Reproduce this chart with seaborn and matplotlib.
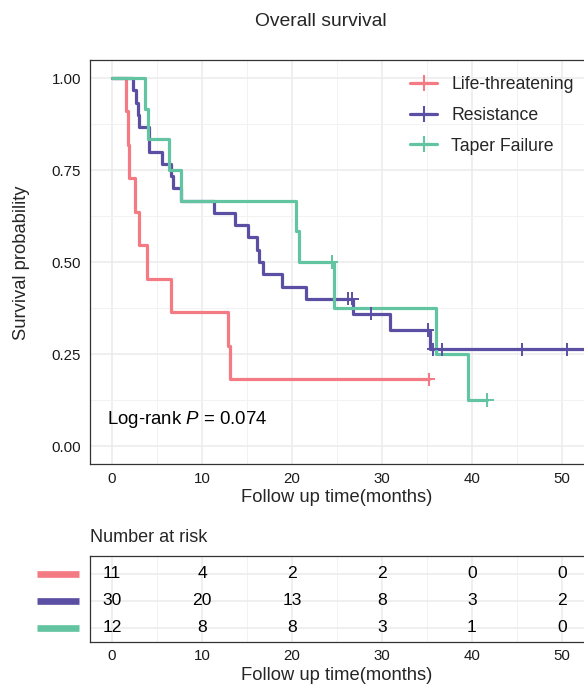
import numpy as np
import pandas as pd
import matplotlib
matplotlib.use("Agg")
import matplotlib.pyplot as plt
import seaborn as sns
from matplotlib.lines import Line2D

# follow up times (months), event 1 = death, 0 = censored
life_time = [1.5, 1.75, 1.9, 2.5, 3.05, 3.9, 6.6, 12.9, 13.1, 35.2, 35.2]
life_event = [1, 1, 1, 1, 1, 1, 1, 1, 1, 0, 0]

resist_time = [2.3, 2.7, 2.9, 3.05, 4.15, 4.15, 5.5, 6.6, 6.8, 7.7,
               11.3, 13.7, 15.1, 16.1, 16.3, 16.8, 18.85, 21.6, 26.2, 26.7,
               26.8, 28.8, 30.9, 35.1, 35.3, 35.7, 36.7, 45.6, 50.6, 53.5]
resist_event = [1, 1, 1, 1, 1, 1, 1, 1, 1, 1,
                1, 1, 1, 1, 1, 1, 1, 1, 0, 0,
                1, 0, 1, 0, 1, 0, 0, 0, 0, 0]

taper_time = [3.7, 3.95, 6.3, 7.7, 20.4, 20.8, 24.4, 24.4, 24.65, 36.0, 39.5, 41.7]
taper_event = [1, 1, 1, 1, 1, 1, 0, 0, 1, 1, 1, 0]

groups = ["Life-threatening", "Resistance", "Taper Failure"]
colors = ["#F47A83", "#5B4FA3", "#63C4A1"]

risk_times = [0, 10, 20, 30, 40, 50]
risk_life = [11, 4, 2, 2, 0, 0]
risk_resist = [30, 20, 13, 8, 3, 2]
risk_taper = [12, 8, 8, 3, 1, 0]

pval_text = "0.074"


def km(times, events):
    t = np.array(times, dtype=float)
    e = np.array(events)
    n = len(t)
    s = 1.0
    xs, ys = [0.0], [1.0]
    cx, cy = [], []
    for u in np.unique(t):
        d = e[t == u].sum()
        c = (t == u).sum() - d
        if d > 0:
            s = s * (n - d) / n
            xs.append(u)
            ys.append(s)
        if c > 0:
            cx += [u] * c
            cy += [s] * c
        n -= d + c
    if xs[-1] < t.max():
        xs.append(t.max())
        ys.append(s)
    return xs, ys, cx, cy


curve_rows, cens_rows = [], []
for g, tt, ee in zip(groups, [life_time, resist_time, taper_time],
                     [life_event, resist_event, taper_event]):
    xs, ys, cx, cy = km(tt, ee)
    curve_rows += [(g, a, b) for a, b in zip(xs, ys)]
    cens_rows += [(g, a, b) for a, b in zip(cx, cy)]
curve = pd.DataFrame(curve_rows, columns=["group", "time", "surv"])
cens = pd.DataFrame(cens_rows, columns=["group", "time", "surv"])

sns.set_style("white")
plt.rcParams["font.family"] = ["Liberation Sans", "DejaVu Sans"]
plt.rcParams["mathtext.fontset"] = "custom"
plt.rcParams["mathtext.rm"] = "Liberation Sans"
plt.rcParams["mathtext.it"] = "Liberation Sans:italic"

W, H = 584, 685
fig = plt.figure(figsize=(W / 100, H / 100), dpi=100)


def box(l, t, r, b):
    return [l / W, 1 - b / H, (r - l) / W, (b - t) / H]


ax = fig.add_axes(box(89.5, 59.6, 584.5, 464.4))
tab = fig.add_axes(box(89.5, 556, 584.5, 642))
palette = dict(zip(groups, colors))

sns.lineplot(data=curve, x="time", y="surv", hue="group", hue_order=groups,
             palette=palette, drawstyle="steps-post", estimator=None,
             sort=False, lw=2.3, legend=False, ax=ax)
sns.scatterplot(data=cens, x="time", y="surv", hue="group", hue_order=groups,
                palette=palette, marker="+", s=90, linewidth=1.4,
                legend=False, ax=ax, zorder=4)

for a in (ax, tab):
    a.set_xlim(-2.5, 52.5)
    a.set_xticks(risk_times)
    a.set_xticks(np.arange(5, 50, 10), minor=True)
    a.grid(which="major", color="#EBEBEB", lw=1.1)
    a.grid(which="minor", color="#F2F2F2", lw=0.7)
    a.set_axisbelow(True)
    a.tick_params(which="major", length=3.2, width=0.8, color="#333333",
                  labelsize=10.8, labelcolor="#1a1a1a", pad=2.2)
    a.tick_params(which="minor", length=0)
    for side, sp in a.spines.items():
        sp.set_color("#333333")
        sp.set_linewidth(0.9)
    a.spines["right"].set_visible(False)
    a.set_xlabel("")
    a.set_ylabel("")

ax.set_ylim(-0.05, 1.05)
ax.set_yticks([0, 0.25, 0.5, 0.75, 1.0])
ax.set_yticklabels(["0.00", "0.25", "0.50", "0.75", "1.00"])
ax.set_yticks([0.125, 0.375, 0.625, 0.875], minor=True)
ax.tick_params(axis="y", pad=3.0)

ax.text(-0.6, 0.071, r"Log-rank $\it{P}$ = " + pval_text, fontsize=13.4,
        va="center", ha="left", color="black")

handles = [Line2D([0], [0], color=c, lw=2.3, marker="+", markersize=11,
                  markeredgewidth=1.5) for c in colors]
fig.legend(handles, groups, loc="upper left", frameon=False, fontsize=12.7,
           bbox_to_anchor=(410 / W, 1 - 76 / H), borderpad=0,
           borderaxespad=0, handlelength=1.55, handletextpad=0.8,
           labelspacing=0.78)

# risk table
rows = [2, 1, 0]
tab.set_ylim(-0.53, 2.65)
tab.set_yticks(rows)
tab.set_yticklabels([])
tab.tick_params(axis="y", length=0)
for r, vals, c in zip(rows, [risk_life, risk_resist, risk_taper], colors):
    for x, v in zip(risk_times, vals):
        tab.text(x, r, str(v), ha="center", va="center", fontsize=12.6,
                 color="black")
    tab.plot([(37 - 112) / 9, (79 - 112) / 9], [r, r], color=c, lw=4.8,
             solid_capstyle="butt", clip_on=False)

fig.text(321 / W, 1 - 22 / H, "Overall survival", ha="center", va="center",
         fontsize=13.9)
fig.text(22 / W, 1 - 263 / H, "Survival probability", rotation=90,
         ha="center", va="center", fontsize=13.2)
fig.text(337 / W, 1 - 497 / H, "Follow up time(months)", ha="center",
         va="center", fontsize=13.2)
fig.text(90 / W, 1 - 537 / H, "Number at risk", ha="left", va="center",
         fontsize=13)
fig.text(337 / W, 1 - 676 / H, "Follow up time(months)", ha="center",
         va="center", fontsize=13.2)

fig.savefig("out.png", dpi=100)
